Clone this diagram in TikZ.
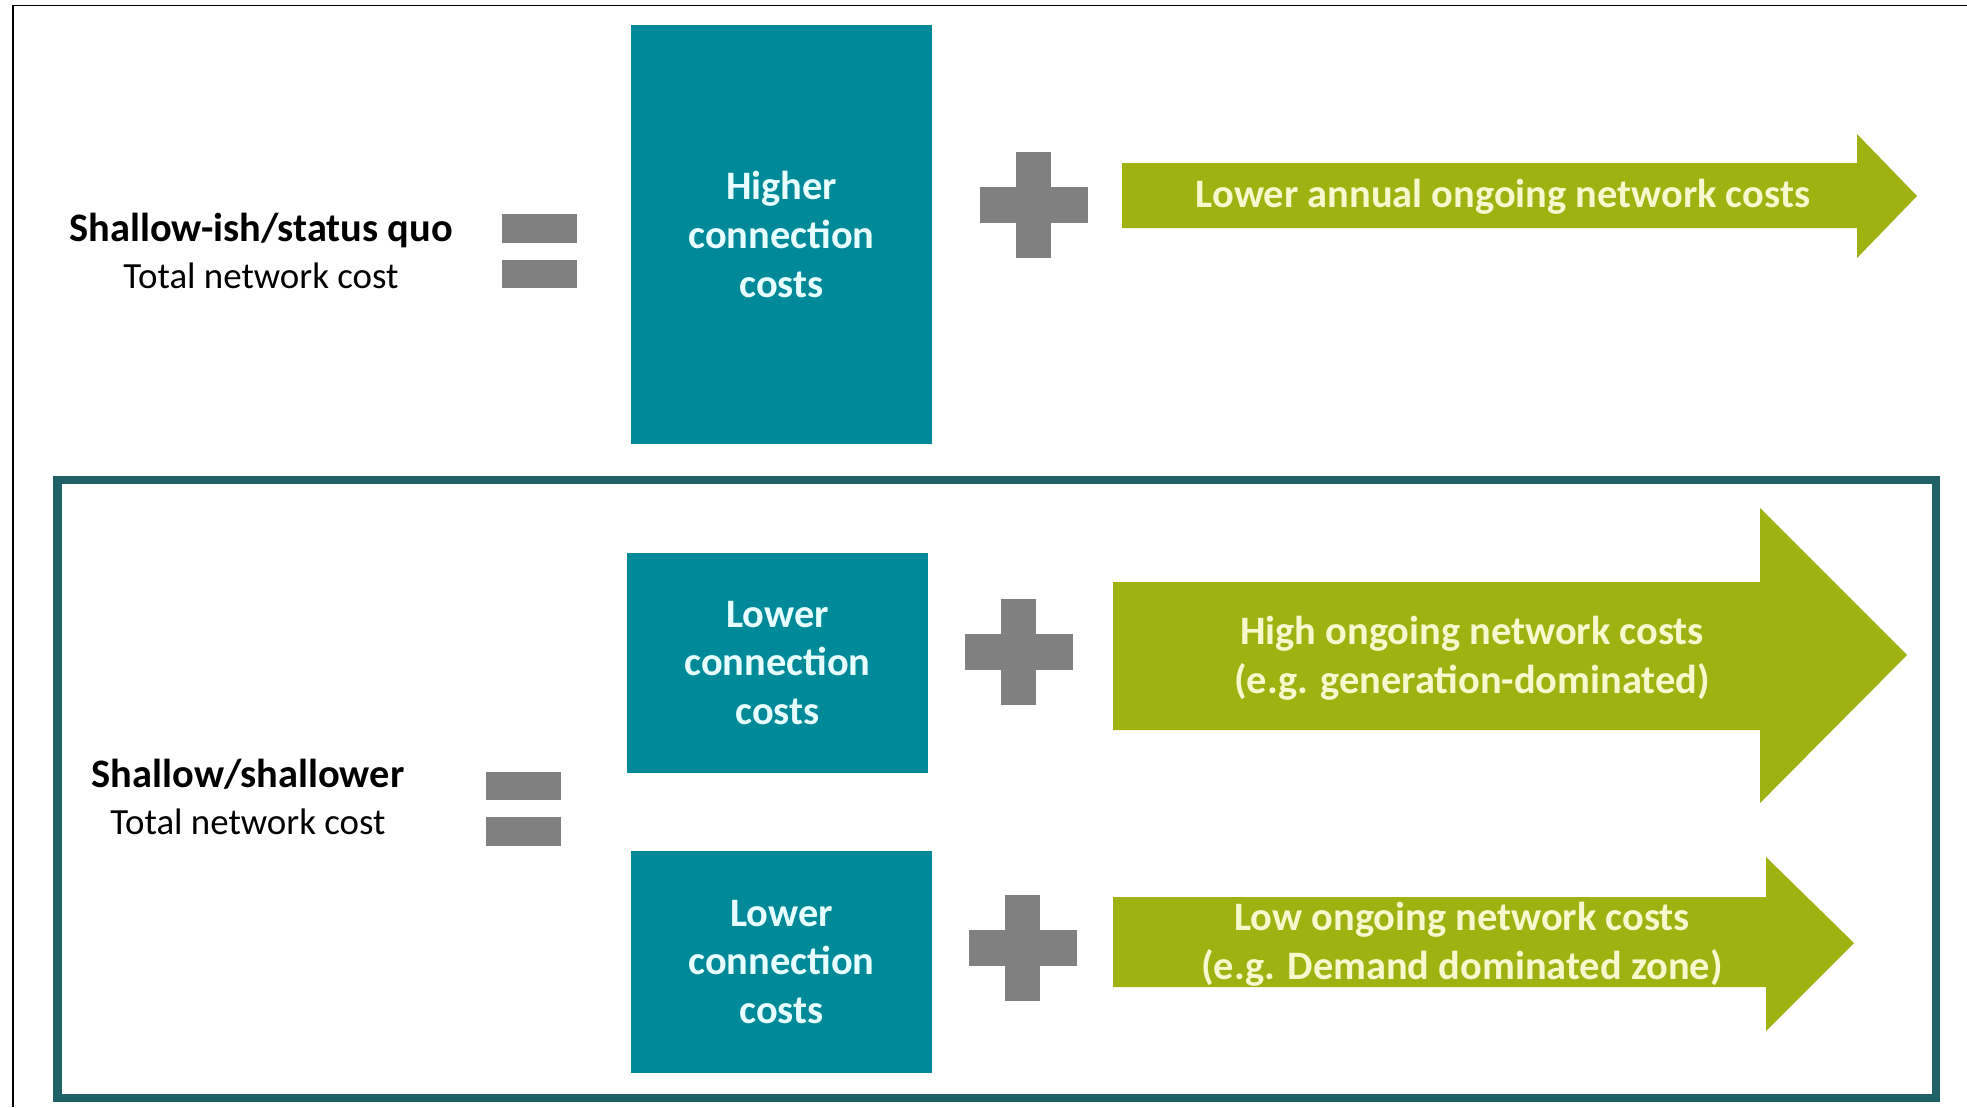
\documentclass[tikz,border=0pt]{standalone}
\usepackage{fontspec}
\setmainfont{Carlito}
\definecolor{boxteal}{RGB}{0,137,152}
\definecolor{frameteal}{RGB}{30,98,103}
\definecolor{costgreen}{RGB}{160,177,18}
\definecolor{signgray}{RGB}{128,128,128}
\definecolor{boxtext}{RGB}{232,255,255}
\definecolor{greentext}{RGB}{246,249,205}
\newcommand{\bodyfont}{\fontsize{11.5}{13.9}\selectfont}
\newcommand{\subfont}{\fontsize{10.5}{12.6}\selectfont}
\tikzset{
  costbox/.style={fill=boxteal, text=boxtext, font=\bodyfont\bfseries,
    align=center, minimum width=3.01cm, inner sep=0pt},
  greenlabel/.style={text=greentext, font=\bodyfont\bfseries, align=center, inner sep=0pt},
  sidehead/.style={font=\bodyfont\bfseries, inner sep=0pt},
  sidesub/.style={font=\subfont, inner sep=0pt},
  signbar/.style={fill=signgray}
}
% plus sign at (#1,#2)
\newcommand{\plussign}[2]{%
  \fill[signbar] (#1-0.175,#2-0.53) rectangle (#1+0.175,#2+0.53);
  \fill[signbar] (#1-0.54,#2-0.18) rectangle (#1+0.54,#2+0.18);}
% equal sign at (#1,#2)
\newcommand{\equalsign}[2]{%
  \fill[signbar] (#1-0.375,#2-0.37) rectangle (#1+0.375,#2-0.085);
  \fill[signbar] (#1-0.375,#2+0.085) rectangle (#1+0.375,#2+0.37);}
\begin{document}
\begin{tikzpicture}[x=1cm,y=-1cm]
  \useasboundingbox (0,0) rectangle (19.67,11.07);
  % outer frame
  \draw[line width=0.5pt] (0.13,11.07) -- (0.13,0.055) -- (19.67,0.055);
  \draw[frameteal, line width=2.3pt] (0.575,4.80) rectangle (19.36,10.98);

  % status quo
  \node[sidehead] (sq) at (2.61,2.30) {Shallow-ish/status quo};
  \node[sidesub] (sqsub) at (2.61,2.76) {Total network cost};
  \equalsign{5.39}{2.51}
  \node[costbox, minimum height=4.19cm] (higher) at (7.815,2.345)
    {Higher\\connection\\costs};
  \plussign{10.335}{2.05}
  \fill[costgreen] (11.22,1.63) -- (18.57,1.63) -- (18.57,1.34) -- (19.17,1.96)
    -- (18.57,2.58) -- (18.57,2.28) -- (11.22,2.28) -- cycle;
  \node[greenlabel] (annual) at (15.03,1.97) {Lower annual ongoing network costs};

  % shallower
  \node[sidehead] (sh) at (2.48,7.74) {Shallow/shallower};
  \node[sidesub] (shsub) at (2.48,8.22) {Total network cost};
  \equalsign{5.23}{8.085}
  \node[costbox, minimum height=2.20cm] (lowgen) at (7.775,6.63)
    {Lower\\connection\\costs};
  \node[costbox, minimum height=2.22cm] (lowdem) at (7.815,9.62)
    {Lower\\connection\\costs};
  \plussign{10.185}{6.515}
  \plussign{10.225}{9.48}
  \fill[costgreen] (11.13,5.82) -- (17.60,5.82) -- (17.60,5.08) -- (19.07,6.55)
    -- (17.60,8.03) -- (17.60,7.30) -- (11.13,7.30) -- cycle;
  \fill[costgreen] (11.13,8.97) -- (17.66,8.97) -- (17.66,8.57) -- (18.54,9.43)
    -- (17.66,10.31) -- (17.66,9.87) -- (11.13,9.87) -- cycle;
  \node[greenlabel] (high) at (14.72,6.58)
    {High ongoing network costs\\(e.g. generation-dominated)};
  \node[greenlabel] (low) at (14.62,9.44)
    {Low ongoing network costs\\(e.g. Demand dominated zone)};
\end{tikzpicture}
\end{document}
